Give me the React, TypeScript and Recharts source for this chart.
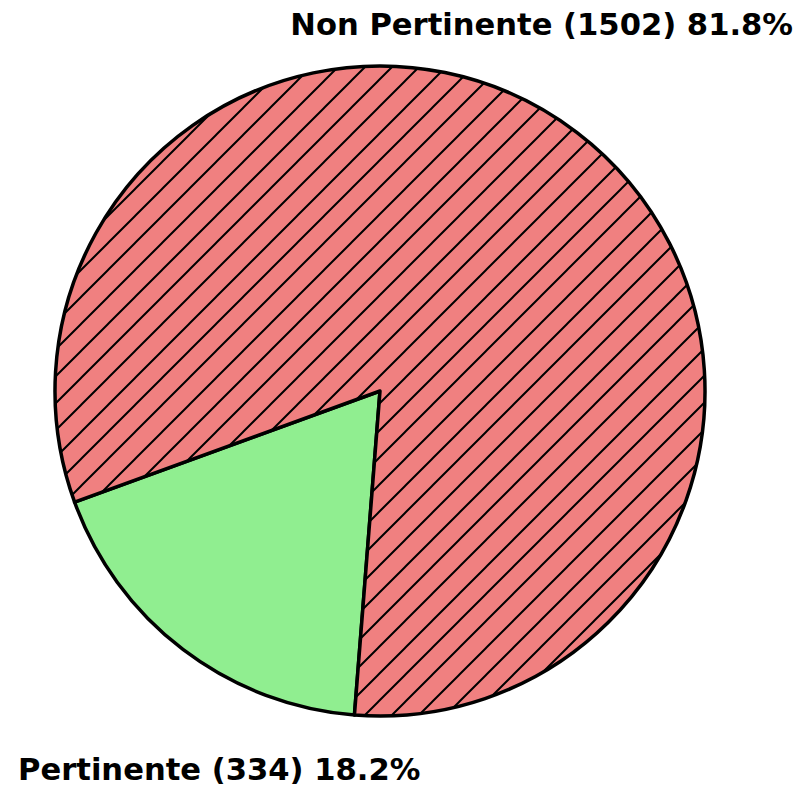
import React from 'react';
import { PieChart, Pie, Cell } from 'recharts';

const categories = ['Pertinente', 'Non Pertinente'];
const counts = [334, 1502];
const percents = ['18.2%', '81.8%'];

const data = categories.map((name, i) => ({ name, value: counts[i], pct: percents[i] }));

const fills = ['#90EE90', 'url(#hatchRed)'];

const renderLabel = (props: any) => {
  const { index, cx, cy, outerRadius } = props;
  const d = data[index];
  const text = `${d.name} (${d.value}) ${d.pct}`;
  // Pertinente at bottom-left, Non Pertinente at top-right
  if (index === 0) {
    return (
      <text key="lbl0" x={cx - outerRadius - 37} y={cy + outerRadius + 64} textAnchor="start"
        fontFamily="DejaVu Sans" fontWeight="bold" fontSize={30.6} fill="#000">
        {text}
      </text>
    );
  }
  return (
    <text key="lbl1" x={cx + outerRadius + 88} y={cy - outerRadius - 31} textAnchor="end"
      fontFamily="DejaVu Sans" fontWeight="bold" fontSize={30.6} fill="#000">
      {text}
    </text>
  );
};

const App: React.FC = () => {
  return (
    <div style={{ position: 'absolute', left: 0, top: 0, width: 802, height: 787, background: '#fff' }}>
      <PieChart width={802} height={787} margin={{ top: 0, right: 0, bottom: 0, left: 0 }}>
        <defs>
          <pattern id="hatchRed" patternUnits="userSpaceOnUse" width={27} height={27}>
            <rect x={0} y={0} width={27} height={27} fill="#F08080" />
            <path d="M-6.75,6.75 L6.75,-6.75 M0,27 L27,0 M20.25,33.75 L33.75,20.25" stroke="#000" strokeWidth={2} />
          </pattern>
        </defs>
        <Pie
          data={data}
          dataKey="value"
          nameKey="name"
          cx={380}
          cy={391}
          outerRadius={325}
          startAngle={200}
          endAngle={560}
          stroke="#000"
          strokeWidth={3.5}
          strokeLinejoin="round"
          label={renderLabel}
          labelLine={false}
          isAnimationActive={false}
        >
          {data.map((d, i) => (
            <Cell key={d.name} fill={fills[i]} />
          ))}
        </Pie>
      </PieChart>
    </div>
  );
};

export default App;
